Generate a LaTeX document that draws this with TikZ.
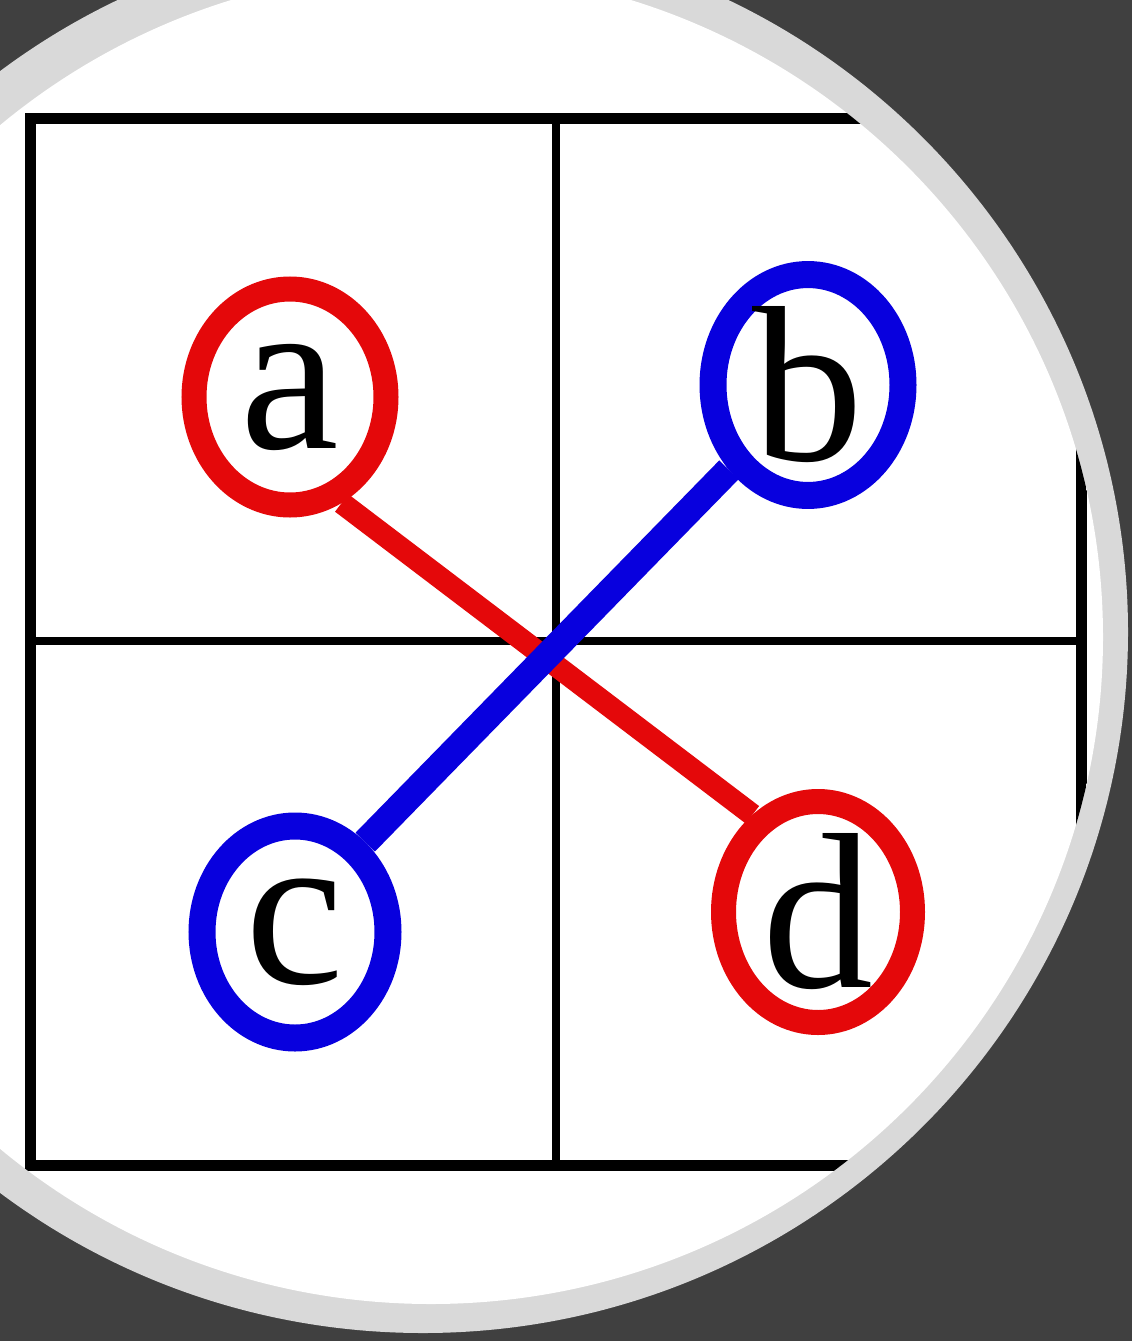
\documentclass[tikz,border=0pt]{standalone}
\usepackage{fontspec}
\setmainfont{Liberation Serif}
\usetikzlibrary{shapes.geometric}
\definecolor{bgdark}{RGB}{64,64,64}
\definecolor{bandgray}{RGB}{217,217,217}
\definecolor{nodered}{RGB}{228,8,10}
\definecolor{nodeblue}{RGB}{8,0,222}
\begin{document}
\begin{tikzpicture}[x=1pt,y=-1pt,
  outerline/.style={draw=black,line width=11pt},
  innerline/.style={draw=black,line width=8pt},
  letternode/.style={ellipse,inner sep=0pt,fill=none,text=black,
    font=\fontsize{222}{222}\selectfont},
  rednode/.style={letternode,draw=nodered,line width=25pt},
  bluenode/.style={letternode,draw=nodeblue,line width=27pt},
  redlink/.style={draw=nodered,line width=22pt},
  bluelink/.style={draw=nodeblue,line width=27pt}]
\useasboundingbox (0,0) rectangle (1132,1341);
\fill[bgdark] (0,0) rectangle (1132,1341);
\fill[bandgray] (423,632) ellipse [x radius=705, y radius=701];
\fill[white] (431,637) ellipse [x radius=672, y radius=667];
\begin{scope}
  \clip (431,637) ellipse [x radius=672, y radius=667];
  \draw[outerline] (30,118) rectangle (1081,1165);
  \draw[innerline] (556,118) -- (556,1165);
  \draw[innerline] (30,641) -- (1081,641);
\end{scope}
\node[rednode, minimum width=192pt, minimum height=216pt] (a) at (290,397) {a};
\node[bluenode, minimum width=190pt, minimum height=219pt] (b) at (808,385) {b};
\node[bluenode, minimum width=186pt, minimum height=212pt] (c) at (295,932) {c};
\node[rednode, minimum width=189pt, minimum height=221pt] (d) at (818,912) {d};
\draw[redlink] (a.-64.6) -- (d.124.9);
\draw[bluelink] (b.-133.6) -- (c.52);
\end{tikzpicture}
\end{document}
